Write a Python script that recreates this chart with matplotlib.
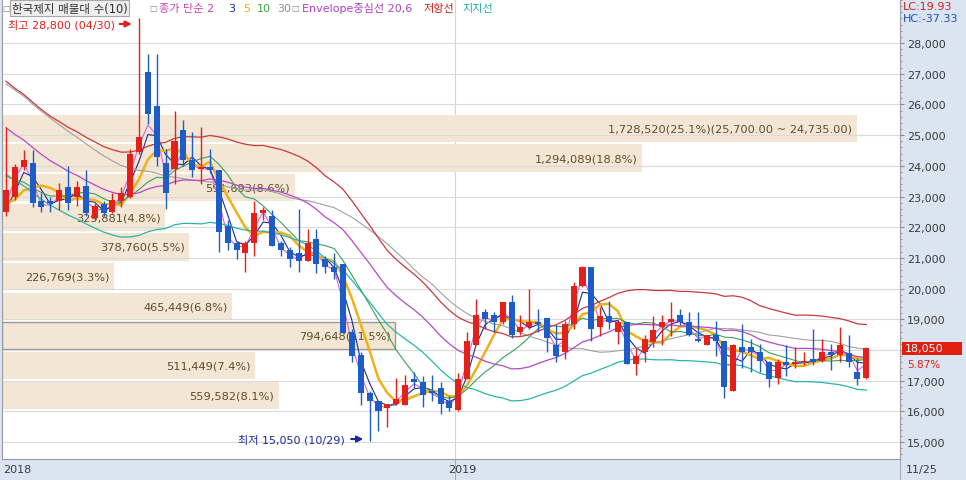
import numpy as np
import pandas as pd
import matplotlib.pyplot as plt
from matplotlib.patches import Rectangle
from matplotlib.lines import Line2D
from matplotlib.transforms import blended_transform_factory
from matplotlib.ticker import FuncFormatter, MultipleLocator

plt.rcParams['font.family'] = ['DejaVu Sans', 'Noto Sans CJK KR']

# weekly candles, week of 2018-01-15 .. week of 2019-11-25
weeks = pd.date_range('2018-01-15', periods=98, freq='W-MON')
opens = [22500, 23000, 23950, 24100, 22850, 22850, 22850, 23300, 23000, 23350,
         22300, 22750, 22500, 22850, 23000, 24450, 27050, 25950, 24100, 23900,
         25150, 24200, 23900, 23950, 23850, 22050, 21500, 21150, 21500, 22450,
         22350, 21500, 21250, 21150, 20900, 21600, 20950, 20700, 20800, 18600,
         17850, 16600, 16350, 16100, 16250, 16200, 17050, 16950, 16650, 16750,
         16350, 16050, 17050, 18150, 19250, 19150, 18900, 19550, 18600, 18750,
         18900, 19050, 18150, 17950, 18850, 20100, 20700, 18750, 19100, 18600,
         18900, 17550, 17950, 18250, 18750, 18900, 19150, 18900, 18350, 18150,
         18500, 18300, 16650, 18100, 18100, 17950, 17600, 17100, 17600, 17550,
         17600, 17700, 17650, 17950, 17850, 17900, 17300, 17100]
highs = [25250, 24050, 24500, 24500, 23100, 23000, 23450, 24000, 23500, 23850,
         22800, 22850, 23100, 23300, 24550, 28800, 27650, 27650, 24550, 25800,
         25500, 25100, 25250, 24550, 23850, 22250, 21550, 21550, 22850, 22650,
         22550, 21550, 21350, 22600, 21950, 21950, 21050, 21150, 20800, 18700,
         17950, 16650, 16350, 16250, 17100, 17200, 17300, 17150, 17200, 16950,
         16500, 17250, 18600, 19650, 19350, 19250, 19550, 19800, 19150, 20000,
         19350, 19050, 18800, 18950, 20200, 20750, 20700, 19400, 19600, 18950,
         18900, 18050, 18500, 19100, 19150, 19550, 19350, 19250, 19250, 18500,
         18950, 18300, 18200, 18850, 18350, 18200, 17650, 17700, 18150, 18100,
         17950, 18700, 18350, 18200, 18750, 18500, 17750, 18100]
lows = [22350, 22900, 23850, 22650, 22500, 22500, 22550, 22550, 22700, 22350,
        22250, 22350, 22450, 22650, 22950, 24400, 25350, 24000, 22600, 23400,
        24000, 23650, 23400, 23750, 21200, 21250, 20950, 20550, 21050, 22250,
        21400, 21050, 20700, 20550, 20900, 20500, 20500, 20300, 18550, 17600,
        16200, 15050, 15350, 15500, 16200, 16200, 16750, 16150, 16350, 15900,
        16000, 16000, 17050, 18150, 18700, 18600, 18850, 18400, 18500, 18700,
        18600, 17950, 17600, 17700, 18700, 20050, 18300, 18450, 18700, 18200,
        17550, 17200, 17600, 18100, 18150, 18450, 18800, 18450, 18250, 18150,
        17800, 16450, 16650, 17400, 17300, 17300, 16800, 16900, 17150, 17400,
        17500, 17500, 17600, 17350, 17600, 17450, 16850, 17050]
closes = [23200, 23950, 24200, 22800, 22650, 22800, 23200, 22800, 23300, 22450,
          22700, 22450, 22900, 23100, 24400, 24950, 25700, 24300, 23100, 24800,
          24200, 23850, 23950, 23850, 21850, 21500, 21250, 21500, 22450, 22550,
          21400, 21250, 20950, 20900, 21500, 20800, 20700, 20550, 18550, 17800,
          16600, 16350, 16000, 16250, 16400, 16850, 16950, 16550, 16600, 16250,
          16100, 17050, 18300, 19150, 19000, 18900, 19550, 18500, 18750, 18900,
          18850, 18400, 17800, 18850, 20100, 20700, 18700, 19100, 18900, 18900,
          17550, 17800, 18350, 18650, 18900, 19000, 18900, 18500, 18300, 18500,
          18300, 16800, 18150, 17950, 17950, 17650, 17050, 17600, 17500, 17600,
          17650, 17600, 17950, 17850, 18150, 17600, 17050, 18050]

# closes of the 29 weeks before the first candle, guessed from where the averages start
warmup_closes = [29800, 30200, 30500, 29900, 29400, 29600, 29200, 29000, 28900, 28650,
                 28300, 27900, 27600, 27200, 26900, 26500, 26300, 26000, 25800, 25600,
                 25300, 24900, 24600, 24250, 23900, 23200, 22700, 22400, 22250]

# volume profile (매물대 10), bands from the bottom up
band_bottom = 16050
band_step = 965
band_volumes = [559582, 511449, 794648, 465449, 226769, 378760, 329881, 591693, 1294089, 1728520]

ma_periods = [2, 3, 5, 10, 30]
ma_colors = ['#e060d8', '#1c2c8c', '#f0b018', '#3aa05a', '#a0a0a0']
ma_widths = [0.8, 0.8, 1.8, 0.8, 0.8]
env_period = 20
env_pct = 6

RED = '#e4201a'
BLUE = '#1e5cc8'
W, H = 966, 481

fig = plt.figure(figsize=(W / 100, H / 100), dpi=100, facecolor='#dbe5f1')
ax = fig.add_axes([2 / W, 21 / H, 898 / W, 460 / H])
XMIN, XMAX = -0.45, 100.8
ax.set_xlim(XMIN, XMAX)
ax.set_ylim(14450, 29433)

x = np.arange(len(closes))
o, h, l, c = (np.array(v, dtype=float) for v in (opens, highs, lows, closes))

# grid
ax.set_yticks(range(15000, 28001, 1000))
ax.yaxis.set_minor_locator(MultipleLocator(200))
ax.grid(axis='y', which='major', color='#dadada', lw=0.8, zorder=0)
i19 = int(np.argmax(weeks.year == 2019))
ax.axvline(i19 - 0.4, color='#d4d4d4', lw=0.8, zorder=0)

# volume profile bars
vols = np.array(band_volumes, dtype=float)
pct = vols / vols.sum() * 100
band_lo = band_bottom + band_step * np.arange(len(vols))
widths = vols / vols.max() * (95.9 - XMIN)
cur = int((c[-1] - band_bottom) // band_step)
ax.barh(band_lo + band_step / 2, widths, height=band_step * 0.92, left=XMIN,
        color='#f4e6d4', zorder=1)
ax.add_patch(Rectangle((XMIN, band_lo[cur] + band_step * 0.04), widths[cur], band_step * 0.92,
                       fill=False, edgecolor='#9a9a9a', lw=1, zorder=1.5))
top = int(np.argmax(vols))
for i in range(len(vols)):
    s = f'{int(vols[i]):,}({pct[i]:.1f}%)'
    if i == top:
        s += f'({band_lo[i] + band_step:,.2f} ~ {band_lo[i]:,.2f})'
    ax.text(XMIN + widths[i] - 0.5, band_lo[i] + band_step / 2, s, ha='right', va='center',
            fontsize=8.2, color='#5e4c2c', zorder=2)

# moving averages and envelope
allc = pd.Series(warmup_closes + closes, dtype=float)
n0 = len(warmup_closes)
for p, col, lw in zip(ma_periods, ma_colors, ma_widths):
    ax.plot(x, allc.rolling(p).mean().iloc[n0:].values, color=col, lw=lw, zorder=3)
center = allc.rolling(env_period).mean().iloc[n0:].values
ax.plot(x, center, color='#b848c8', lw=0.9, zorder=3)
ax.plot(x, center * (1 + env_pct / 100), color='#c83a3a', lw=0.9, zorder=3)
ax.plot(x, center * (1 - env_pct / 100), color='#2ab4ac', lw=0.9, zorder=3)

# candles
cols = np.where(c >= o, RED, BLUE)
ax.vlines(x, l, h, colors=cols, lw=1, zorder=4)
body = np.maximum(np.abs(c - o), 45)
ax.bar(x, body, bottom=np.minimum(o, c), width=0.68, color=cols, zorder=5)

# high / low marks
ih, il = int(np.argmax(h)), int(np.argmin(l))
ax.text(ih - 2.7, h[ih] - 180, f'최고 {int(h[ih]):,} ({weeks[ih]:%m/%d})', ha='right', va='center',
        fontsize=8, color='#e0201a', zorder=6)
ax.annotate('', xy=(ih - 0.5, h[ih] - 180), xytext=(ih - 2.5, h[ih] - 180),
            arrowprops=dict(arrowstyle='-|>', color='#e0201a', lw=1.5, mutation_scale=9), zorder=6)
ax.text(il - 2.8, l[il] + 50, f'최저 {int(l[il]):,} ({weeks[il]:%m/%d})', ha='right', va='center',
        fontsize=8, color='#1a2aa0', zorder=6)
ax.annotate('', xy=(il - 0.4, l[il] + 50), xytext=(il - 2.4, l[il] + 50),
            arrowprops=dict(arrowstyle='-|>', color='#1a2aa0', lw=1.5, mutation_scale=9), zorder=6)

# axes styling; the price tag covers the tick label next to the last close
ax.yaxis.tick_right()
ax.yaxis.set_major_formatter(
    FuncFormatter(lambda v, p: '' if abs(v - c[-1]) < 400 else f'{v:,.0f}'))
ax.tick_params(axis='y', which='major', length=3, color='#8a8a8a', labelsize=8,
               labelcolor='#3a3a3a', pad=2)
ax.tick_params(axis='y', which='minor', length=1.5, color='#8a8a8a')
ax.set_xticks([])
for sp in ax.spines.values():
    sp.set_color('#9a9a9a')
ax.spines['top'].set_visible(False)


def ftext(px, py, s, **kw):
    fig.text(px / W, 1 - py / H, s, va='center', **kw)


# legend row
ftext(2, 9, '□', fontsize=6, color='#8a8a8a')
ftext(12, 9, '한국제지 매물대 수(10)', fontsize=8.3, color='#303030',
      bbox=dict(boxstyle='square,pad=0.15', facecolor='#eeeeee', edgecolor='#a8a8a8', lw=0.8))
ftext(149, 9, '□', fontsize=6, color='#8a8a8a')
ftext(159, 9, '종가 단순 2', fontsize=8, color='#d040b0')
ftext(228, 9, '3', fontsize=8, color='#1c2c8c')
ftext(243, 9, '5', fontsize=8, color='#e8b000')
ftext(257, 9, '10', fontsize=8, color='#3aa03a')
ftext(277, 9, '30', fontsize=8, color='#909090')
ftext(291, 9, '□', fontsize=6, color='#8a8a8a')
ftext(302, 9, 'Envelope중심선 20,6', fontsize=8, color='#b040c0')
ftext(423, 9, '저항선', fontsize=8, color='#c82020')
ftext(462, 9, '지지선', fontsize=8, color='#20b0a0')

# right axis notes
ftext(903, 7, f'LC:{(c[-1] / l.min() - 1) * 100:.2f}', fontsize=8, color='#d02020')
ftext(903, 19, f'HC:{(c[-1] / h.max() - 1) * 100:.2f}', fontsize=8, color='#2050c0')
bt = blended_transform_factory(ax.transAxes, ax.transData)
ax.add_patch(Rectangle((1.002, c[-1] - 200), 0.067, 400, transform=bt, clip_on=False,
                       facecolor='#e02010', edgecolor='none', zorder=6))
ax.text(1.005, c[-1], f'{int(c[-1]):,}', transform=bt, ha='left', va='center',
        fontsize=8, color='white', zorder=7)
ax.text(1.008, c[-1] - 520, f'{(c[-1] / c[-2] - 1) * 100:.2f}%', transform=bt, ha='left',
        va='center', fontsize=7.5, color='#e02010', zorder=7)

# date strip
ftext(3, 470, str(weeks[0].year), fontsize=8, color='#3a3a3a')
ftext(448, 470, str(weeks[i19].year), fontsize=8, color='#3a3a3a')
ftext(906, 470, f'{weeks[-1]:%m/%d}', fontsize=8, color='#3a3a3a')
xs19 = ax.transData.transform((i19 - 0.4, 0))[0] / W
for xf in (xs19, 900 / W):
    fig.add_artist(Line2D([xf, xf], [0, 21 / H], color='#a8a8a8', lw=0.8))

fig.savefig('out.png', dpi=100, facecolor=fig.get_facecolor())
